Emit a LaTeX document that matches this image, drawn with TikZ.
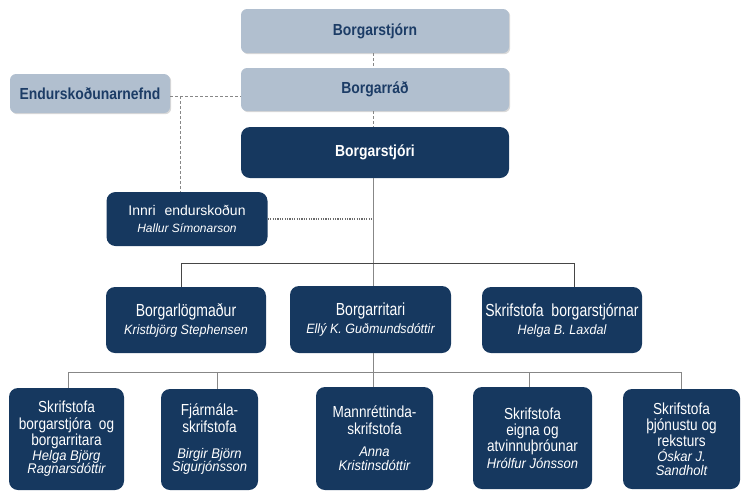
\documentclass[tikz,border=0pt]{standalone}
\usepackage{fontspec}
\setmainfont{Liberation Sans}
\newfontfamily\fmid[FakeStretch=0.8]{Liberation Sans}
\newfontfamily\fbot[FakeStretch=0.85]{Liberation Sans}
\newfontfamily\ftop[FakeStretch=0.87]{Liberation Sans}
\newfontfamily\fname[FakeStretch=0.93]{Liberation Sans}
\usetikzlibrary{shadows}
\definecolor{navy}{RGB}{22,56,95}
\definecolor{lightbox}{RGB}{177,191,207}
\definecolor{lighttext}{RGB}{28,60,102}
\definecolor{linegray}{RGB}{135,135,135}
\definecolor{darkline}{RGB}{70,70,70}
\newcommand\nmmid{\fname\itshape\fontsize{13.5}{18}\selectfont}
\newcommand\nmbot{\fname\itshape\fontsize{14}{16.3}\selectfont}
\begin{document}
\begin{tikzpicture}[x=1pt,y=-1pt,
  lightnode/.style={fill=lightbox, rounded corners=6pt, text=lighttext, inner sep=0pt,
    font=\ftop\bfseries\fontsize{16}{18}\selectfont,
    drop shadow={shadow xshift=1.2pt, shadow yshift=-1.2pt, opacity=0.3, fill=gray}},
  darknode/.style={fill=navy, rounded corners=9pt, text=white, inner sep=0pt, align=center},
  topdark/.style={darknode, font=\ftop\bfseries\fontsize{16}{18}\selectfont},
  innrinode/.style={darknode, font=\fontsize{14}{17.3}\selectfont},
  midnode/.style={darknode, minimum width=160pt, minimum height=66pt, font=\fmid\fontsize{17.5}{18}\selectfont},
  botnode/.style={darknode, font=\fbot\fontsize{16}{16.3}\selectfont},
  dashl/.style={draw=linegray, line width=0.8pt, dash pattern=on 3pt off 2pt},
  dotl/.style={draw=darkline!80, line width=1.2pt, dash pattern=on 1.2pt off 1.2pt},
  topbus/.style={draw=darkline, line width=0.9pt},
  mainline/.style={draw=linegray, line width=0.9pt},
  lowbus/.style={draw=linegray, line width=0.9pt}
]
\useasboundingbox (0,0) rectangle (741,491);

% upper boxes
\node[lightnode, minimum width=268pt, minimum height=44pt] (bstjorn) at (375,31) {Borgarstjórn};
\node[lightnode, minimum width=268pt, minimum height=43pt] (bradh) at (375,89.5) {Borgarráð};
\node[lightnode, minimum width=160pt, minimum height=39pt] (endn) at (90,93.5) {Endurskoðunarnefnd};
\node[topdark, minimum width=268pt, minimum height=51pt] (bstjori) at (375,152.5) {Borgarstjóri};
\node[innrinode, minimum width=161pt, minimum height=54pt] (innri) at (187,219)
  {Innri\hspace{9pt}endurskoðun\\{\itshape\fontsize{12}{17.3}\selectfont Hallur Símonarson}};

% middle row
\node[midnode] (blog) at (186,320) {Borgarlögmaður\\{\nmmid Kristbjörg Stephensen}};
\node[midnode, minimum width=161pt, minimum height=67pt] (britari) at (370.5,319.5) {Borgarritari\\{\nmmid Ellý K. Guðmundsdóttir}};
\node[midnode] (bskr) at (562,320) {Skrifstofa\ \ borgarstjórnar\\{\nmmid Helga B. Laxdal}};

% bottom row
\node[botnode, minimum width=115pt, minimum height=102pt] (b1) at (66.5,439)
  {Skrifstofa\\borgarstjóra\ \ og\\borgarritara\\[-1.5pt]{\nmbot Helga Björg}\\[-2.5pt]{\nmbot Ragnarsdóttir}};
\node[botnode, minimum width=97pt, minimum height=101pt] (b2) at (209.5,439.5)
  {Fjármála-\\skrifstofa\\[10pt]{\nmbot Birgir Björn}\\[-3pt]{\nmbot Sigurjónsson}};
\node[botnode, minimum width=117pt, minimum height=103pt] (b3) at (374.5,438.5)
  {Mannréttinda-\\skrifstofa\\[6.5pt]{\nmbot Anna}\\[-2.3pt]{\nmbot Kristinsdóttir}};
\node[botnode, minimum width=119pt, minimum height=102pt] (b4) at (532.5,438)
  {Skrifstofa\\eigna og\\atvinnuþróunar\\{\nmbot Hrólfur Jónsson}};
\node[botnode, minimum width=117pt, minimum height=100pt] (b5) at (681.5,439)
  {Skrifstofa\\þjónustu og\\reksturs\\[-2pt]{\nmbot Óskar J.}\\[-2.5pt]{\nmbot Sandholt}};

% connectors
\coordinate (bus1) at (373,263);
\coordinate (bus2) at (373,372);
\draw[dashl] (bstjorn.south -| bus1) -- (bradh.north -| bus1);
\draw[dashl] (bradh.south -| bus1) -- (bstjori.north -| bus1);
\draw[dashl] ([yshift=-2.5pt]endn.east) -- ([yshift=-2.5pt]endn.east -| bradh.west);
\coordinate (dj) at ([xshift=10pt,yshift=-2.5pt]endn.east);
\draw[dashl] (dj) -- (dj |- innri.north);
\draw[dotl] (innri.east) -- (innri.east -| bus1);
\draw[mainline] (bstjori.south -| bus1) -- (britari.north -| bus1);
\draw[topbus] (bus1) -| ([xshift=-5pt]blog.north);
\draw[topbus] (bus1) -| ([xshift=12pt]bskr.north);
\draw[mainline] (britari.south -| bus2) -- (b3.north -| bus2);
\draw[lowbus] (bus2) -| ([xshift=1.5pt]b1.north);
\draw[lowbus] (bus2) -| ([xshift=7.5pt]b2.north);
\draw[lowbus] (bus2) -| ([xshift=-3.5pt]b4.north);
\draw[lowbus] (bus2) -| (b5.north);
\end{tikzpicture}
\end{document}
